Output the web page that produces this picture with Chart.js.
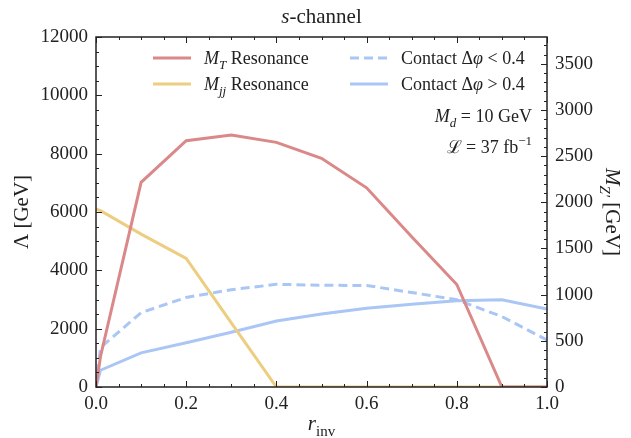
<!DOCTYPE html>
<html>
<head>
<meta charset="utf-8">
<script src="https://cdn.jsdelivr.net/npm/chart.js@4.4.1/dist/chart.umd.min.js"></script>
<style>
  html, body { margin: 0; padding: 0; background: #fff; }
  #wrap { width: 631px; height: 438px; position: relative; }
</style>
</head>
<body>
<div id="wrap"><canvas id="chart"></canvas></div>
<script>
// r_inv sampling points
var rInv = [0, 0.01, 0.1, 0.2, 0.3, 0.4, 0.5, 0.6, 0.7, 0.8, 0.9, 1.0];

// resonance limits, M_Z' [GeV] (right axis)
var mtResonance  = [0, 330, 2216, 2667, 2728, 2649, 2476, 2157, 1626, 1110, 0, 0];
var mjjResonance = [1926, 1910, 1655, 1392, 694, 0, 0, 0, 0, 0, 0, 0];

// contact operator limits, Lambda [GeV] (left axis)
var contactLow  = [0, 1350, 2550, 3070, 3335, 3520, 3490, 3480, 3240, 2990, 2415, 1610];
var contactHigh = [0, 575, 1170, 1520, 1875, 2265, 2505, 2700, 2840, 2955, 2990, 2670];

// tick labels
var xTicks = [0, 0.2, 0.4, 0.6, 0.8, 1.0];
var yTicks = [0, 2000, 4000, 6000, 8000, 10000, 12000];
var y2Ticks = [0, 500, 1000, 1500, 2000, 2500, 3000, 3500];

var FONT = "'Liberation Serif', 'DejaVu Serif', serif";
var INK = '#222';

function pts(arr) {
    return rInv.map(function (r, i) { return { x: r, y: arr[i] }; });
}

// draw text made of pieces: [text, style], style: '' | 'i' | 'isub' | 'sub' | 'sup'
function drawRich(ctx, parts, x, y, size, align) {
    var widths = [];
    var total = 0;
    parts.forEach(function (p) {
        ctx.font = fontFor(p[1], size);
        var w = ctx.measureText(p[0]).width;
        widths.push(w);
        total += w;
    });
    var cx = x;
    if (align === 'center') cx = x - total / 2;
    if (align === 'right') cx = x - total;
    ctx.textAlign = 'left';
    ctx.textBaseline = 'alphabetic';
    parts.forEach(function (p, i) {
        ctx.font = fontFor(p[1], size);
        var dy = 0;
        if (p[1] === 'sub' || p[1] === 'isub') dy = size * 0.28;
        if (p[1] === 'sup') dy = -size * 0.42;
        ctx.fillText(p[0], cx, y + dy);
        cx += widths[i];
    });
}

function fontFor(style, size) {
    var small = (style === 'sub' || style === 'isub' || style === 'sup');
    var italic = (style === 'i' || style === 'isub');
    return (italic ? 'italic ' : '') + (small ? Math.round(size * 0.7) : size) + 'px ' + FONT;
}

var decor = {
    id: 'decor',
    afterDatasetsDraw: function (chart) {
        var ctx = chart.ctx;
        var a = chart.chartArea;
        var sx = chart.scales.x, sy = chart.scales.y, sy2 = chart.scales.y2;
        ctx.save();
        ctx.strokeStyle = INK;
        ctx.fillStyle = INK;

        // frame
        ctx.lineWidth = 1.5;
        ctx.strokeRect(a.left, a.top, a.right - a.left, a.bottom - a.top);

        // inward ticks
        ctx.lineWidth = 1;
        ctx.beginPath();
        for (var v = 0; v <= 1.0001; v += 0.05) {
            var px = Math.round(sx.getPixelForValue(v)) + 0.5;
            var major = Math.abs(v / 0.2 - Math.round(v / 0.2)) < 1e-6;
            var len = major ? 6 : 3;
            ctx.moveTo(px, a.bottom); ctx.lineTo(px, a.bottom - len);
            ctx.moveTo(px, a.top); ctx.lineTo(px, a.top + len);
        }
        for (var w = 0; w <= 12000; w += 500) {
            var py = Math.round(sy.getPixelForValue(w)) + 0.5;
            var len2 = (w % 2000 === 0) ? 6 : 3;
            ctx.moveTo(a.left, py); ctx.lineTo(a.left + len2, py);
        }
        for (var u = 0; u <= 3790; u += 100) {
            var py2 = Math.round(sy2.getPixelForValue(u)) + 0.5;
            var len3 = (u % 500 === 0) ? 6 : 3;
            ctx.moveTo(a.right, py2); ctx.lineTo(a.right - len3, py2);
        }
        ctx.stroke();

        // title
        drawRich(ctx, [['s', 'i'], ['-channel', '']], (a.left + a.right) / 2, 23, 21, 'center');

        // axis titles
        drawRich(ctx, [['r', 'i'], ['inv', 'sub']], (a.left + a.right) / 2, 430, 21, 'center');
        ctx.save();
        ctx.translate(28, (a.top + a.bottom) / 2);
        ctx.rotate(-Math.PI / 2);
        drawRich(ctx, [['Λ [GeV]', '']], 0, 0, 21, 'center');
        ctx.restore();
        ctx.save();
        ctx.translate(606, (a.top + a.bottom) / 2);
        ctx.rotate(Math.PI / 2);
        drawRich(ctx, [['M', 'i'], ['Z\u2032', 'isub'], [' [GeV]', '']], 0, 0, 21, 'center');
        ctx.restore();

        // legend, two columns
        var ds = chart.data.datasets;
        var slots = [
            { i: 0, x: 153, y: 58, text: [['M', 'i'], ['T', 'isub'], [' Resonance', '']] },
            { i: 1, x: 153, y: 84, text: [['M', 'i'], ['jj', 'isub'], [' Resonance', '']] },
            { i: 2, x: 350, y: 58, text: [['Contact Δ', ''], ['φ', 'i'], [' < 0.4', '']] },
            { i: 3, x: 350, y: 84, text: [['Contact Δ', ''], ['φ', 'i'], [' > 0.4', '']] }
        ];
        slots.forEach(function (s) {
            var d = ds[s.i];
            ctx.save();
            ctx.strokeStyle = d.borderColor;
            ctx.lineWidth = d.borderWidth;
            ctx.setLineDash(d.borderDash || []);
            ctx.beginPath();
            ctx.moveTo(s.x, s.y);
            ctx.lineTo(s.x + 38, s.y);
            ctx.stroke();
            ctx.restore();
            ctx.fillStyle = INK;
            drawRich(ctx, s.text, s.x + 51, s.y + 6, 18, 'left');
        });

        // annotations
        drawRich(ctx, [['M', 'i'], ['d', 'isub'], [' = 10 GeV', '']], 532, 122, 18, 'right');
        drawRich(ctx, [['\u2112', ''], [' = 37 fb', ''], ['\u22121', 'sup']], 532, 153, 18, 'right');

        ctx.restore();
    }
};

var tickFont = { family: FONT, size: 19 };

new Chart(document.getElementById('chart'), {
    type: 'line',
    data: {
        datasets: [
            { label: 'M_T Resonance', data: pts(mtResonance), yAxisID: 'y2',
              borderColor: 'rgb(218,136,136)', borderWidth: 3 },
            { label: 'M_jj Resonance', data: pts(mjjResonance), yAxisID: 'y2',
              borderColor: 'rgb(237,205,128)', borderWidth: 3 },
            { label: 'Contact dphi < 0.4', data: pts(contactLow), yAxisID: 'y',
              borderColor: 'rgb(170,198,245)', borderWidth: 3, borderDash: [9, 5] },
            { label: 'Contact dphi > 0.4', data: pts(contactHigh), yAxisID: 'y',
              borderColor: 'rgb(170,198,245)', borderWidth: 3 }
        ]
    },
    options: {
        responsive: true,
        maintainAspectRatio: false,
        animation: false,
        layout: { padding: { top: 37, left: 0, right: 0, bottom: 0 } },
        elements: { point: { radius: 0 }, line: { tension: 0 } },
        plugins: {
            legend: { display: false },
            title: { display: false },
            tooltip: { enabled: false }
        },
        scales: {
            x: {
                type: 'linear',
                min: 0, max: 1,
                grid: { display: false, drawTicks: false },
                border: { display: false },
                afterBuildTicks: function (s) { s.ticks = xTicks.map(function (v) { return { value: v }; }); },
                afterFit: function (s) { s.height = 51; },
                ticks: {
                    padding: 6, color: INK, font: tickFont, maxRotation: 0, autoSkip: false,
                    callback: function (v) { return Number(v).toFixed(1); }
                }
            },
            y: {
                position: 'left',
                min: 0, max: 12000,
                grid: { display: false, drawTicks: false },
                border: { display: false },
                afterBuildTicks: function (s) { s.ticks = yTicks.map(function (v) { return { value: v }; }); },
                afterFit: function (s) { s.width = 96; },
                ticks: { padding: 8, color: INK, font: tickFont, autoSkip: false,
                    callback: function (v) { return String(v); } }
            },
            y2: {
                position: 'right',
                min: 0, max: 3790,
                grid: { display: false, drawTicks: false },
                border: { display: false },
                afterBuildTicks: function (s) { s.ticks = y2Ticks.map(function (v) { return { value: v }; }); },
                afterFit: function (s) { s.width = 84; },
                ticks: { padding: 8, color: INK, font: tickFont, autoSkip: false,
                    callback: function (v) { return String(v); } }
            }
        }
    },
    plugins: [decor]
});
</script>
</body>
</html>
